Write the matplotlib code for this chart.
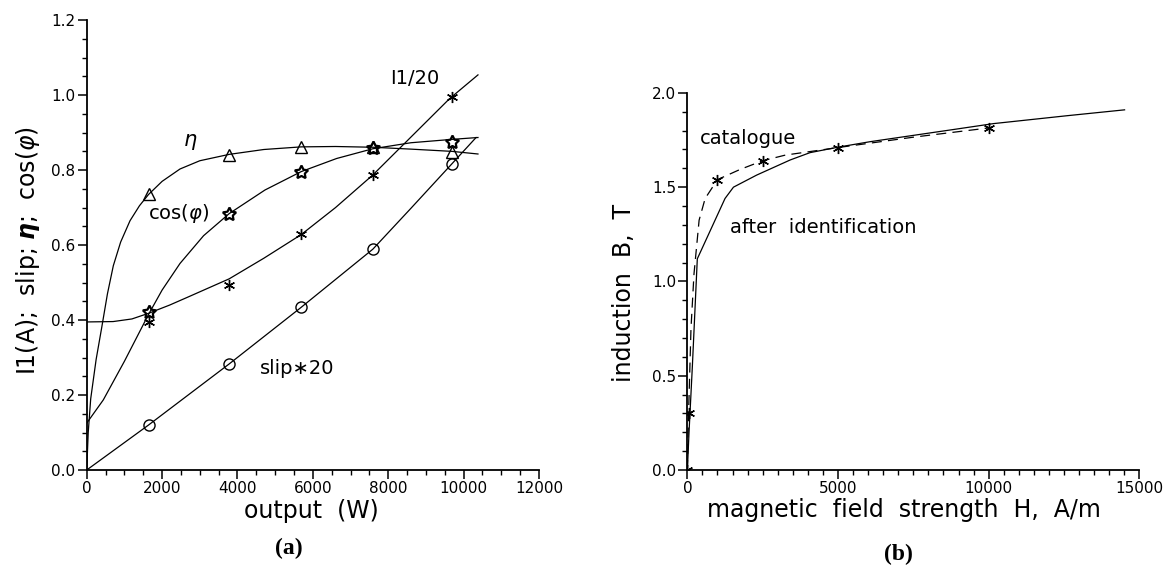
"""Induction motor characteristics (a) and magnetisation curve (b)."""

from matplotlib import pyplot
from matplotlib.ticker import MultipleLocator

# ---- (a) motor characteristics versus output power ----
P_pts = [1640, 3780, 5690, 7590, 9690]
eta_pts = [0.735, 0.840, 0.861, 0.861, 0.849]
cos_pts = [0.422, 0.684, 0.796, 0.858, 0.875]
i1_pts = [0.395, 0.493, 0.629, 0.787, 0.995]
slip_pts = [0.120, 0.283, 0.434, 0.589, 0.817]

eta_P = [0, 40, 106, 250, 398, 550, 706, 900, 1149, 1400, 1640, 2000,
         2475, 3000, 3780, 4700, 5690, 6600, 7590, 8600, 9690, 10380]
eta_c = [0.0, 0.10, 0.19, 0.295, 0.38, 0.47, 0.545, 0.608, 0.665, 0.705,
         0.735, 0.77, 0.803, 0.825, 0.842, 0.855, 0.862, 0.863, 0.861,
         0.856, 0.850, 0.843]

cos_P = [0, 440, 1000, 1640, 2000, 2475, 3100, 3780, 4730, 5690, 6630,
         7590, 8600, 9690, 10380]
cos_c = [0.125, 0.187, 0.29, 0.415, 0.48, 0.551, 0.625, 0.684, 0.747,
         0.796, 0.831, 0.857, 0.873, 0.882, 0.887]

i1_P = [0, 700, 1200, 1640, 2200, 2700, 3780, 4700, 5690, 6600, 7590,
        8600, 9620, 10380]
i1_c = [0.395, 0.396, 0.403, 0.418, 0.44, 0.462, 0.51, 0.565, 0.628,
        0.70, 0.787, 0.888, 0.99, 1.054]

slip_P = [0, 1640, 3780, 5690, 7590, 8600, 9690, 10330]
slip_c = [0.0, 0.120, 0.283, 0.434, 0.589, 0.698, 0.817, 0.887]

# ---- (b) B-H curve ----
H_cat = [0, 40, 1000, 2500, 5000, 10000]
B_cat = [0.0, 0.30, 1.54, 1.64, 1.71, 1.814]
H_cat_line = [0, 40, 120, 220, 390, 590, 1000, 1750, 2500, 3250, 5000,
              7500, 10000]
B_cat_line = [0.0, 0.30, 0.75, 1.04, 1.325, 1.44, 1.54, 1.594, 1.64,
              1.67, 1.71, 1.765, 1.814]

H_id = [0, 55, 166, 330, 1250, 1530, 2300, 3410, 4070, 5000, 6060,
        8930, 10160, 12610, 14510]
B_id = [0.0, 0.20, 0.55, 1.12, 1.44, 1.50, 1.564, 1.644, 1.683, 1.712,
        1.741, 1.808, 1.837, 1.879, 1.91]

pyplot.rc('font', family='DejaVu Sans', size=11)
pyplot.rc('mathtext', fontset='dejavusans')
fig = pyplot.figure(figsize=(11.67, 5.68), dpi=100)
ax1 = fig.add_axes([0.0743, 0.1725, 0.3876, 0.792])
ax2 = fig.add_axes([0.589, 0.1725, 0.3873, 0.664])

line_kw = dict(color='black', linewidth=0.9)
mk_kw = dict(color='black', linewidth=0, markerfacecolor='none',
             markeredgewidth=1.0)

ax1.plot(eta_P, eta_c, **line_kw)
ax1.plot(cos_P, cos_c, **line_kw)
ax1.plot(i1_P, i1_c, **line_kw)
ax1.plot(slip_P, slip_c, **line_kw)
ax1.plot(P_pts, eta_pts, marker='^', markersize=8, **mk_kw)
ax1.plot(P_pts, cos_pts, marker=(5, 1, 0), markersize=10,
         **dict(mk_kw, markeredgewidth=1.6))
ax1.plot(P_pts, i1_pts, marker=(6, 2, 0), markersize=8, **mk_kw)
ax1.plot(P_pts, slip_pts, marker='o', markersize=8, **mk_kw)

ax1.text(2750, 0.875, r'$\eta$', fontsize=15, ha='center', va='center')
ax1.text(1620, 0.684, r'cos($\varphi$)', fontsize=14, ha='left',
         va='center')
ax1.text(4600, 0.271, 'slip\u221720', fontsize=14, ha='left', va='center')
ax1.text(8050, 1.045, 'I1/20', fontsize=14, ha='left', va='center')

ax1.set_xlim(0, 12000)
ax1.set_ylim(0.0, 1.2)
ax1.xaxis.set_major_locator(MultipleLocator(2000))
ax1.xaxis.set_minor_locator(MultipleLocator(500))
ax1.yaxis.set_major_locator(MultipleLocator(0.2))
ax1.yaxis.set_minor_locator(MultipleLocator(0.05))
ax1.yaxis.set_major_formatter('{x:.1f}')
ax1.set_xlabel('output  (W)', fontsize=17)
ax1.set_ylabel(r'I1(A);  slip; $\boldsymbol{\eta}$;  cos($\varphi$)',
               fontsize=17)
ax1.xaxis.set_label_coords(0.496, -0.091)
ax1.yaxis.set_label_coords(-0.130, 0.489)

ax2.plot(H_id, B_id, **line_kw)
ax2.plot(H_cat_line, B_cat_line, linestyle=(0, (8, 5)), **line_kw)
ax2.plot(H_cat, B_cat, marker=(6, 2, 0), markersize=8, **mk_kw)
ax2.text(400, 1.759, 'catalogue', fontsize=14, ha='left', va='center')
ax2.text(1420, 1.284, 'after  identification', fontsize=14, ha='left',
         va='center')

ax2.set_xlim(0, 15000)
ax2.set_ylim(0.0, 2.0)
ax2.xaxis.set_major_locator(MultipleLocator(5000))
ax2.xaxis.set_minor_locator(MultipleLocator(500))
ax2.yaxis.set_major_locator(MultipleLocator(0.5))
ax2.yaxis.set_minor_locator(MultipleLocator(0.1))
ax2.yaxis.set_major_formatter('{x:.1f}')
ax2.set_xlabel('magnetic  field  strength  H,  A/m', fontsize=17)
ax2.set_ylabel('induction  B,  T', fontsize=17)
ax2.xaxis.set_label_coords(0.479, -0.106)
ax2.yaxis.set_label_coords(-0.140, 0.469)

for ax in (ax1, ax2):
    ax.spines['top'].set_visible(False)
    ax.spines['right'].set_visible(False)
    ax.spines['left'].set_linewidth(1.3)
    ax.spines['bottom'].set_linewidth(1.3)
    ax.tick_params(which='major', direction='out', length=6.5, width=1.1,
                   pad=1.5, labelsize=11)
    ax.tick_params(which='minor', direction='out', length=3.5, width=1.0)
    ax.xaxis.label.set_verticalalignment('center')
    ax.yaxis.label.set_verticalalignment('center')

fig.text(0.2476, 0.035, '(a)', fontsize=17, fontweight='bold',
         family='Liberation Serif', ha='center', va='center')
fig.text(0.7695, 0.0246, '(b)', fontsize=17, fontweight='bold',
         family='Liberation Serif', ha='center', va='center')

fig.savefig('out.png', dpi=100)
